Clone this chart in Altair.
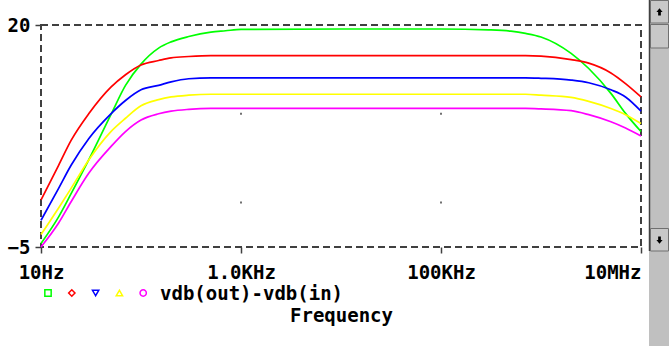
import altair as alt
import pandas as pd

# ---- data ----
freqs = [10, 15, 20, 30, 50, 70, 100, 150, 200, 300, 500, 700, 1000, 10000,
         100000, 300000, 500000, 700000, 1000000, 2000000, 3000000, 5000000,
         7000000, 10000000]
green = [-4.6, -1.6, 1.0, 4.8, 9.9, 13.2, 15.6, 17.4, 18.1, 18.7, 19.2, 19.35, 19.5, 19.55,
         19.55, 19.45, 19.3, 19.05, 18.65, 16.8, 15.1, 12.3, 10.05, 8.0]
red = [0.3, 4.2, 7.0, 10.0, 13.0, 14.4, 15.5, 16.0, 16.3, 16.45, 16.55, 16.55, 16.55, 16.55,
       16.55, 16.55, 16.55, 16.55, 16.5, 16.1, 15.7, 14.6, 13.4, 11.9]
blue = [-2.0, 1.6, 4.2, 7.2, 10.0, 11.5, 12.7, 13.2, 13.6, 13.95, 14.05, 14.05, 14.05, 14.05,
        14.05, 14.05, 14.05, 14.05, 14.0, 13.8, 13.5, 12.7, 11.9, 10.3]
yellow = [-3.6, -0.6, 1.6, 4.8, 8.0, 9.5, 10.9, 11.6, 11.9, 12.1, 12.2, 12.2, 12.2, 12.2,
          12.2, 12.2, 12.2, 12.2, 12.1, 11.85, 11.4, 10.6, 9.9, 8.9]
magenta = [-5.0, -2.3, 0.1, 3.3, 6.3, 8.0, 9.3, 10.0, 10.3, 10.5, 10.6, 10.6, 10.6, 10.6,
           10.6, 10.6, 10.6, 10.6, 10.55, 10.35, 9.9, 9.1, 8.4, 7.5]

trace_names = ["t1", "t2", "t3", "t4", "t5"]
trace_colors = ["#00ff00", "#ff0000", "#0000ff", "#ffff00", "#ff00ff"]
trace_shapes = ["square", "diamond", "triangle-down", "triangle-up", "circle"]
legend_label = "vdb(out)-vdb(in)"

x_tick_values = [10, 1000, 100000, 10000000]
x_tick_labels = ["10Hz", "1.0KHz", "100KHz", "10MHz"]
y_tick_values = [-5, 20]
grid_freqs = [1000, 100000]
grid_vals = [0, 10]

# ---- tables ----
rows = []
for name, vals in zip(trace_names, [green, red, blue, yellow, magenta]):
    for f, v in zip(freqs, vals):
        rows.append({"freq": f, "db": v, "trace": name})
df = pd.DataFrame(rows)
df_grid = pd.DataFrame([{"freq": f, "db": v} for f in grid_freqs for v in grid_vals])
one = pd.DataFrame({"a": [0]})

FONT = "DejaVu Sans Mono"
AX = "#404040"

label_expr = " : ".join(
    f"datum.value == {v} ? '{t}'" for v, t in zip(x_tick_values, x_tick_labels)
) + " : ''"

x_scale = alt.Scale(type="log", domain=[10, 10000000], nice=False)
y_scale = alt.Scale(domain=[-5, 20], nice=False, zero=False)

x_enc = alt.X(
    "freq:Q", scale=x_scale,
    axis=alt.Axis(
        values=x_tick_values, labelExpr=label_expr, grid=False, domain=False,
        ticks=True, tickSize=6, tickColor=AX, tickWidth=1.5,
        labelFont=FONT, labelFontSize=19, labelFontWeight="bold", labelColor="#000000",
        labelBaseline="alphabetic", labelPadding=25,
        labelAlign={"expr": "datum.value >= 10000000 ? 'right' : 'center'"},
        title="Frequency", titleFont=FONT, titleFontSize=19, titleFontWeight="bold",
        titleColor="#000000", titleBaseline="alphabetic", titleY=74, titleX=300,
    ),
)
y_enc = alt.Y(
    "db:Q", scale=y_scale,
    axis=alt.Axis(
        values=y_tick_values, grid=False, domain=False, ticks=True, tickSize=6,
        tickColor=AX, tickWidth=1.5, labelFont=FONT, labelFontSize=19,
        labelFontWeight="bold", labelColor="#000000", labelPadding=5, title=None,
    ),
)

lines = alt.Chart(df).mark_line(strokeWidth=1.7, interpolate="monotone").encode(
    x=x_enc, y=y_enc,
    color=alt.Color("trace:N", scale=alt.Scale(domain=trace_names, range=trace_colors), legend=None),
)

grid = alt.Chart(df_grid).mark_square(size=4, color="#707070", opacity=1).encode(
    x=alt.X("freq:Q", scale=x_scale), y=alt.Y("db:Q", scale=y_scale)
)

layers = [grid, lines]

# legend row under the plot
for i, (c, s) in enumerate(zip(trace_colors, trace_shapes)):
    layers.append(
        alt.Chart(one).mark_point(shape=s, filled=False, size=40, strokeWidth=1.5, color=c, opacity=1)
        .encode(x=alt.value(7 + 23.8 * i), y=alt.value(268))
    )
layers.append(
    alt.Chart(one).mark_text(text=legend_label, align="left", baseline="alphabetic",
                             font=FONT, fontSize=19, fontWeight="bold", color="#000000")
    .encode(x=alt.value(119), y=alt.value(275))
)

# window scrollbar at the right edge
layers.append(alt.Chart(one).mark_rect(color="#c0c0c0").encode(
    x=alt.value(608), x2=alt.value(628), y=alt.value(-25), y2=alt.value(321)))
layers.append(alt.Chart(one).mark_rule(color="#404040", strokeWidth=1.5).encode(
    x=alt.value(608.5), y=alt.value(-25), y2=alt.value(226)))
for y0, y1 in [(-25, -2), (-1, 23), (203, 226)]:
    layers.append(alt.Chart(one).mark_rect(fill="#c8c8c8", stroke="#707070", strokeWidth=1).encode(
        x=alt.value(609.5), x2=alt.value(627.5), y=alt.value(y0 + 0.5), y2=alt.value(y1)))
up_arrow = "M0,-1L0.8,0L0.35,0L0.35,0.9L-0.35,0.9L-0.35,0L-0.8,0Z"
down_arrow = "M0,1L0.8,0L0.35,0L0.35,-0.9L-0.35,-0.9L-0.35,0L-0.8,0Z"
layers.append(alt.Chart(one).mark_point(shape=up_arrow, filled=True, size=60, color="#000000", opacity=1)
              .encode(x=alt.value(618.5), y=alt.value(-13)))
layers.append(alt.Chart(one).mark_point(shape=down_arrow, filled=True, size=60, color="#000000", opacity=1)
              .encode(x=alt.value(618.5), y=alt.value(215)))

chart = alt.layer(*layers).properties(
    width=600, height=222,
    autosize=alt.AutoSizeParams(type="none"),
    padding={"left": 41, "top": 25, "right": 28, "bottom": 99},
    background="#ffffff",
).configure_view(
    stroke=AX, strokeDash=[7, 4], strokeWidth=2,
)

chart.save("out.html", embed_options={"renderer": "svg", "actions": False})
